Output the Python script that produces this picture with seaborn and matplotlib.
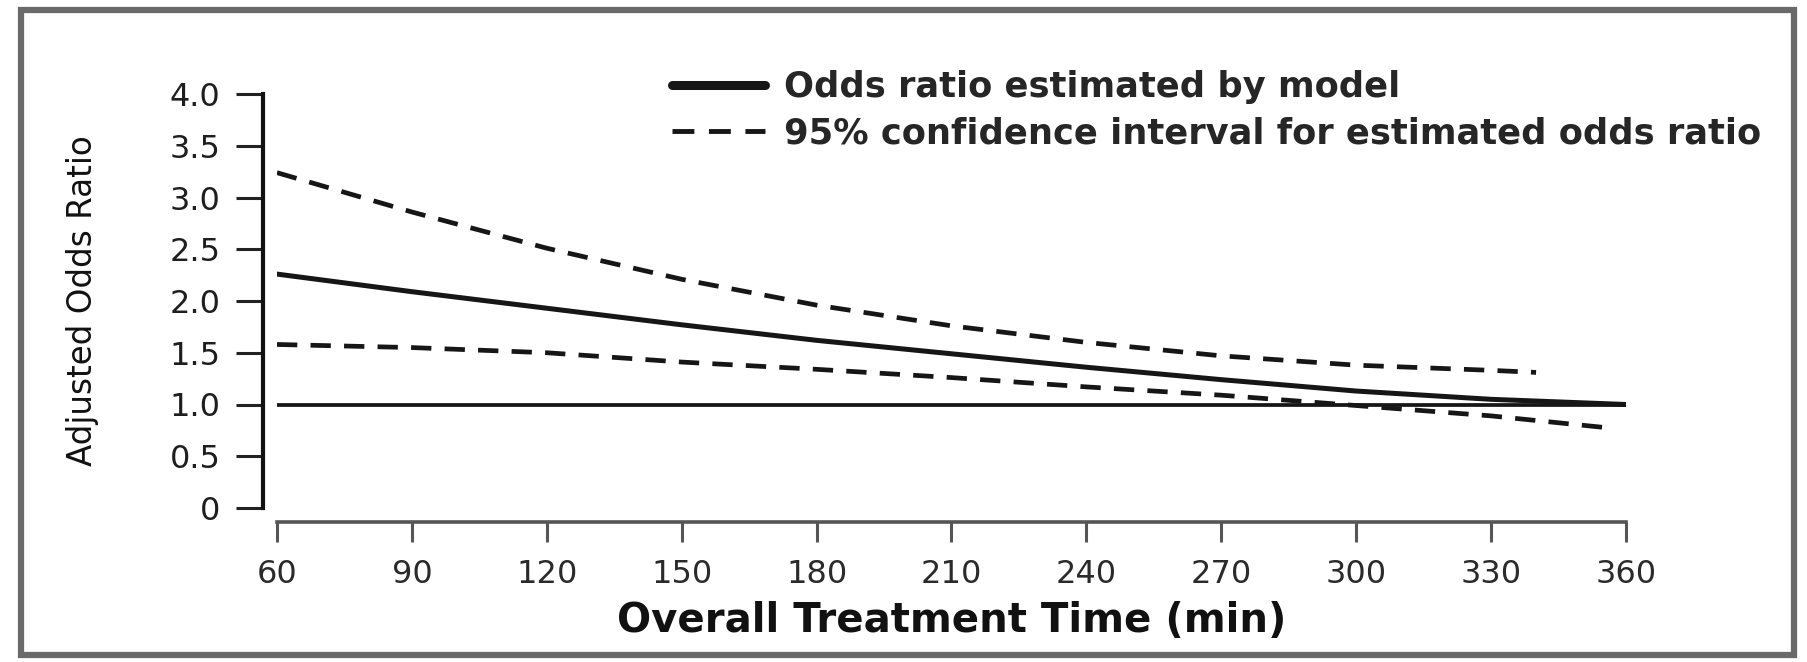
import numpy as np
import pandas as pd
import seaborn as sns
import matplotlib.pyplot as plt
from matplotlib.lines import Line2D
from matplotlib.patches import Rectangle

# valores
minutos = [60, 90, 120, 150, 180, 210, 240, 270, 300, 330, 360]
odds_modelo = [2.26, 2.09, 1.93, 1.77, 1.62, 1.49, 1.36, 1.24, 1.13, 1.05, 1.00]

minutos_sup = [60, 90, 120, 150, 180, 210, 240, 270, 300, 330, 340]
ic_superior = [3.24, 2.86, 2.51, 2.21, 1.96, 1.76, 1.60, 1.47, 1.38, 1.33, 1.31]

minutos_inf = [60, 90, 120, 150, 180, 210, 240, 270, 300, 330, 357]
ic_inferior = [1.58, 1.55, 1.50, 1.41, 1.34, 1.26, 1.17, 1.09, 0.99, 0.89, 0.77]

referencia = 1.0
x_ticks = [60, 90, 120, 150, 180, 210, 240, 270, 300, 330, 360]
y_ticks = [0, 0.5, 1.0, 1.5, 2.0, 2.5, 3.0, 3.5, 4.0]
y_ticklabels = ['0', '0.5', '1.0', '1.5', '2.0', '2.5', '3.0', '3.5', '4.0']

label_modelo = 'Odds ratio estimated by model'
label_ic = '95% confidence interval for estimated odds ratio'

df_modelo = pd.DataFrame({'min': minutos, 'odds': odds_modelo})
df_sup = pd.DataFrame({'min': minutos_sup, 'odds': ic_superior})
df_inf = pd.DataFrame({'min': minutos_inf, 'odds': ic_inferior})

# %%
sns.set_style('white')
plt.rcParams['font.family'] = ['DejaVu Sans']

W, H = 1807, 662
fig = plt.figure(figsize=(W / 100, H / 100), dpi=100)
ax = fig.add_axes([277 / W, 1 - 508 / H, (1626 - 277) / W, (508 - 94) / H])

cor = '#161616'
ax.axhline(referencia, color=cor, lw=2.7, zorder=2)
sns.lineplot(data=df_modelo, x='min', y='odds', ax=ax, color=cor, linewidth=3.6)
sns.lineplot(data=df_sup, x='min', y='odds', ax=ax, color=cor, linewidth=3.4)
ax.lines[-1].set_dashes((4.3, 2.8))
sns.lineplot(data=df_inf, x='min', y='odds', ax=ax, color=cor, linewidth=3.4)
ax.lines[-1].set_dashes((4.3, 2.8))

ax.set_xlim(60, 360)
ax.set_ylim(0, 4)
ax.set_xticks(x_ticks)
ax.set_yticks(y_ticks)
ax.set_yticklabels(y_ticklabels)

sns.despine(ax=ax, offset=10, trim=True)
ax.spines['left'].set_linewidth(3.0)
ax.spines['left'].set_color('#111111')
ax.spines['bottom'].set_linewidth(2.6)
ax.spines['bottom'].set_color('#555555')

ax.tick_params(axis='y', direction='out', length=19.5, width=2.2, color='#222222',
               pad=11, labelsize=23, labelcolor='#1e1e1e', left=True)
ax.tick_params(axis='x', direction='out', length=14.5, width=2.2, color='#555555',
               pad=12, labelsize=23, labelcolor='#2a2a2a', bottom=True)

ax.set_ylabel('Adjusted Odds Ratio', fontsize=23.5, color='#111111')
ax.yaxis.set_label_coords(-0.132, 0.5)
ax.set_xlabel('Overall Treatment Time (min)', fontsize=29, fontweight='bold', color='#111111')
ax.xaxis.set_label_coords(0.5, -0.225)

# legenda
handles = [Line2D([], [], color=cor, lw=6.5),
           Line2D([], [], color=cor, lw=3.5, dashes=(4.5, 3.0))]
fig.legend(handles, [label_modelo, label_ic], loc='upper left',
           bbox_to_anchor=(672 / W, 1 - 70 / H), bbox_transform=fig.transFigure,
           frameon=False, borderpad=0, borderaxespad=0, handlelength=2.65,
           handletextpad=0.52, labelspacing=0.36,
           prop={'size': 25.4, 'weight': 'bold'})

# moldura cinza
fig.patches.append(Rectangle((21 / W, 1 - 655 / H), (1794 - 21) / W, (655 - 10) / H,
                             transform=fig.transFigure, fill=False, lw=4.5,
                             edgecolor='#6a6a6a'))

fig.savefig('out.png', dpi=100)
